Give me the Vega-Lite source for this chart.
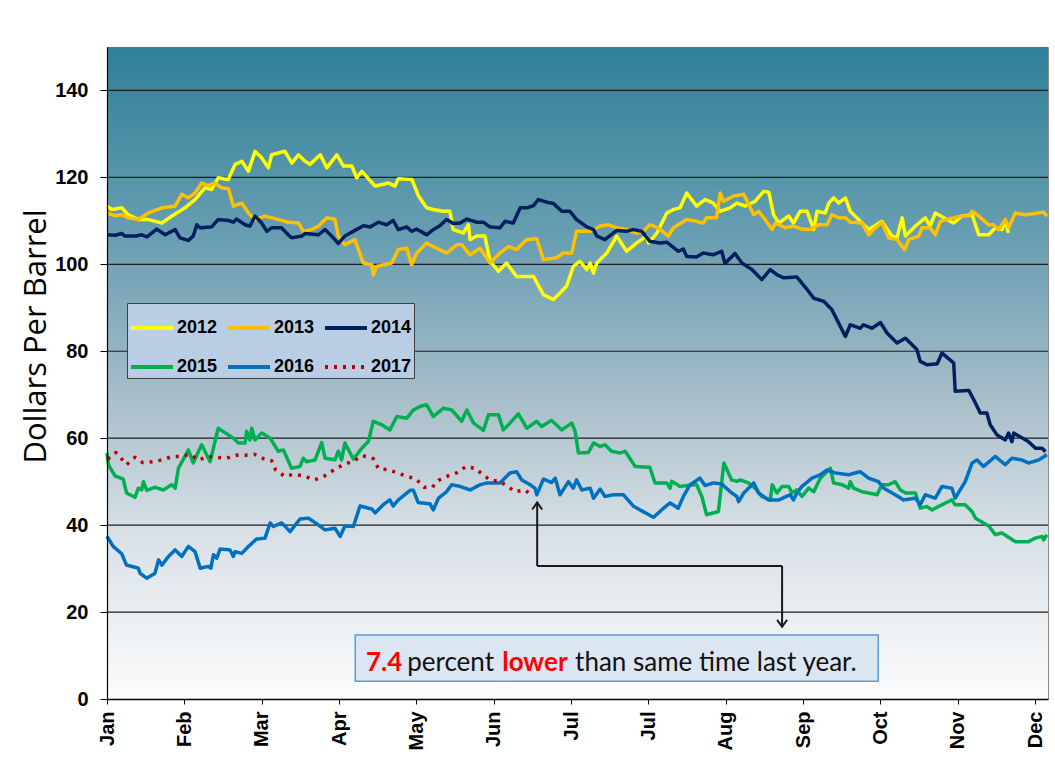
{
"$schema":"https://vega.github.io/schema/vega-lite/v6.json",
"width":941,"height":652,
"autosize":{"type":"none"},
"padding":{"left":107,"top":47,"right":7,"bottom":73},
"background":"white",
"config":{"view":{"stroke":"#8c8c8c","strokeWidth":1},"font":"Liberation Sans"},
"datasets":{
"prices":[
{"year":"2012","day":0,"price":113.4},{"year":"2012","day":1.3,"price":112.6},{"year":"2012","day":4,"price":113},{"year":"2012","day":5.8,"price":111.4},{"year":"2012","day":8.5,"price":110.3},{"year":"2012","day":11.2,"price":110.3},{"year":"2012","day":14.9,"price":109.5},{"year":"2012","day":17.6,"price":111.1},{"year":"2012","day":21.2,"price":113},{"year":"2012","day":23.9,"price":114.9},{"year":"2012","day":26.6,"price":117.6},{"year":"2012","day":28.4,"price":117.2},{"year":"2012","day":30.2,"price":119.9},{"year":"2012","day":32.9,"price":119.5},{"year":"2012","day":34.8,"price":123},{"year":"2012","day":36.6,"price":123.7},{"year":"2012","day":38.4,"price":121.4},{"year":"2012","day":40.2,"price":126},{"year":"2012","day":42,"price":124.5},{"year":"2012","day":43.8,"price":122.2},{"year":"2012","day":44.7,"price":125.2},{"year":"2012","day":48.3,"price":126},{"year":"2012","day":50.2,"price":123.3},{"year":"2012","day":52,"price":125.2},{"year":"2012","day":53.8,"price":123.7},{"year":"2012","day":55.1,"price":123},{"year":"2012","day":57.9,"price":125.2},{"year":"2012","day":59.7,"price":122.2},{"year":"2012","day":62.4,"price":125.2},{"year":"2012","day":64.2,"price":122.6},{"year":"2012","day":66.5,"price":122.6},{"year":"2012","day":67.8,"price":119.9},{"year":"2012","day":69.2,"price":121.4},{"year":"2012","day":72.8,"price":118},{"year":"2012","day":76.4,"price":118.7},{"year":"2012","day":78.2,"price":118},{"year":"2012","day":79.1,"price":119.7},{"year":"2012","day":82.8,"price":119.5},{"year":"2012","day":84.6,"price":115.7},{"year":"2012","day":86.8,"price":113},{"year":"2012","day":88.6,"price":112.6},{"year":"2012","day":91.3,"price":112.2},{"year":"2012","day":93.1,"price":112.2},{"year":"2012","day":94,"price":108},{"year":"2012","day":96.8,"price":107.2},{"year":"2012","day":98.1,"price":109.1},{"year":"2012","day":98.6,"price":105.7},{"year":"2012","day":100.4,"price":106.5},{"year":"2012","day":102.6,"price":106.5},{"year":"2012","day":104,"price":100.7},{"year":"2012","day":106.3,"price":98.4},{"year":"2012","day":108.5,"price":100.3},{"year":"2012","day":111.2,"price":97.2},{"year":"2012","day":115.8,"price":97.2},{"year":"2012","day":118.5,"price":93},{"year":"2012","day":121.2,"price":91.9},{"year":"2012","day":123,"price":93.4},{"year":"2012","day":124.8,"price":95},{"year":"2012","day":126.6,"price":99.5},{"year":"2012","day":128.4,"price":100.7},{"year":"2012","day":130.3,"price":98.8},{"year":"2012","day":131.2,"price":100.3},{"year":"2012","day":132.1,"price":98},{"year":"2012","day":133,"price":100.3},{"year":"2012","day":135.7,"price":102.6},{"year":"2012","day":138.4,"price":106.5},{"year":"2012","day":141.1,"price":103},{"year":"2012","day":143.8,"price":104.9},{"year":"2012","day":146.5,"price":106.5},{"year":"2012","day":147,"price":104.9},{"year":"2012","day":149.3,"price":107.2},{"year":"2012","day":152,"price":111.8},{"year":"2012","day":153.8,"price":112.6},{"year":"2012","day":155.6,"price":113},{"year":"2012","day":157.4,"price":116.4},{"year":"2012","day":160.1,"price":113.4},{"year":"2012","day":162.4,"price":114.9},{"year":"2012","day":164.6,"price":114.1},{"year":"2012","day":166.5,"price":112.2},{"year":"2012","day":169.2,"price":113},{"year":"2012","day":171,"price":114.1},{"year":"2012","day":173.3,"price":113.4},{"year":"2012","day":176,"price":114.5},{"year":"2012","day":178.3,"price":116.8},{"year":"2012","day":179.7,"price":116.6},{"year":"2012","day":181,"price":111.4},{"year":"2012","day":182.4,"price":109.5},{"year":"2012","day":185.1,"price":111.1},{"year":"2012","day":186.4,"price":109.5},{"year":"2012","day":188.2,"price":112.2},{"year":"2012","day":190.1,"price":112.2},{"year":"2012","day":191.9,"price":108},{"year":"2012","day":192.8,"price":112.2},{"year":"2012","day":195,"price":111.8},{"year":"2012","day":196,"price":114.1},{"year":"2012","day":197.3,"price":115.3},{"year":"2012","day":198.7,"price":114.1},{"year":"2012","day":200.5,"price":115.3},{"year":"2012","day":201.8,"price":112.2},{"year":"2012","day":204.1,"price":110.3},{"year":"2012","day":206.8,"price":108},{"year":"2012","day":210.4,"price":109.9},{"year":"2012","day":213.1,"price":106.5},{"year":"2012","day":214.5,"price":106.1},{"year":"2012","day":215.9,"price":110.7},{"year":"2012","day":216.8,"price":106.5},{"year":"2012","day":219.5,"price":108.8},{"year":"2012","day":222.2,"price":110.7},{"year":"2012","day":223.5,"price":108.8},{"year":"2012","day":224.9,"price":111.8},{"year":"2012","day":227.2,"price":110.7},{"year":"2012","day":229.9,"price":109.5},{"year":"2012","day":232.1,"price":111.1},{"year":"2012","day":234.9,"price":111.4},{"year":"2012","day":236.7,"price":106.8},{"year":"2012","day":239.4,"price":106.8},{"year":"2012","day":241.2,"price":108.4},{"year":"2012","day":243,"price":108},{"year":"2012","day":243.9,"price":109.9},{"year":"2012","day":244.8,"price":107.2},
{"year":"2013","day":0,"price":111.8},{"year":"2013","day":2.2,"price":111.2},{"year":"2013","day":4,"price":111.4},{"year":"2013","day":5.8,"price":110.7},{"year":"2013","day":8.5,"price":110.3},{"year":"2013","day":11.2,"price":111.8},{"year":"2013","day":14.9,"price":113},{"year":"2013","day":18.5,"price":113.4},{"year":"2013","day":20.3,"price":116.1},{"year":"2013","day":22.1,"price":115.3},{"year":"2013","day":23.9,"price":116.4},{"year":"2013","day":25.7,"price":118.7},{"year":"2013","day":27.5,"price":118.1},{"year":"2013","day":29.3,"price":118.7},{"year":"2013","day":31.1,"price":117.6},{"year":"2013","day":33,"price":117.4},{"year":"2013","day":34.3,"price":113.4},{"year":"2013","day":36.6,"price":114.1},{"year":"2013","day":38.4,"price":111.8},{"year":"2013","day":40.2,"price":110.3},{"year":"2013","day":42.9,"price":111.1},{"year":"2013","day":46.5,"price":110.3},{"year":"2013","day":49.2,"price":109.7},{"year":"2013","day":52,"price":109.5},{"year":"2013","day":53.3,"price":107.6},{"year":"2013","day":55.6,"price":108},{"year":"2013","day":57.4,"price":108.8},{"year":"2013","day":59.7,"price":110.7},{"year":"2013","day":61.9,"price":110.4},{"year":"2013","day":62.8,"price":106.5},{"year":"2013","day":64.6,"price":104.5},{"year":"2013","day":67.3,"price":105.7},{"year":"2013","day":69.6,"price":100.3},{"year":"2013","day":71.9,"price":99.9},{"year":"2013","day":72.3,"price":97.6},{"year":"2013","day":73.2,"price":99.5},{"year":"2013","day":77.3,"price":100.3},{"year":"2013","day":79.1,"price":103.4},{"year":"2013","day":81.4,"price":103.7},{"year":"2013","day":82.7,"price":99.9},{"year":"2013","day":84.1,"price":102.6},{"year":"2013","day":86.8,"price":104.9},{"year":"2013","day":89.5,"price":103.7},{"year":"2013","day":92.2,"price":102.6},{"year":"2013","day":95,"price":104.5},{"year":"2013","day":96.3,"price":104.5},{"year":"2013","day":98.6,"price":102.2},{"year":"2013","day":101.3,"price":103.7},{"year":"2013","day":104,"price":100.3},{"year":"2013","day":106.7,"price":102.6},{"year":"2013","day":109,"price":104.1},{"year":"2013","day":111.2,"price":103.4},{"year":"2013","day":114,"price":105.7},{"year":"2013","day":116.7,"price":105.9},{"year":"2013","day":118.5,"price":101.1},{"year":"2013","day":122.1,"price":101.5},{"year":"2013","day":123.9,"price":102.6},{"year":"2013","day":126.2,"price":102.6},{"year":"2013","day":127.5,"price":107.6},{"year":"2013","day":131.2,"price":107.6},{"year":"2013","day":133.9,"price":108.8},{"year":"2013","day":136.1,"price":109.1},{"year":"2013","day":138.4,"price":108.4},{"year":"2013","day":141.1,"price":108},{"year":"2013","day":143.8,"price":107.2},{"year":"2013","day":145.6,"price":107.6},{"year":"2013","day":147.4,"price":109.1},{"year":"2013","day":149.7,"price":108.4},{"year":"2013","day":152.4,"price":106.5},{"year":"2013","day":153.8,"price":108.4},{"year":"2013","day":157.4,"price":110.3},{"year":"2013","day":160.1,"price":109.9},{"year":"2013","day":161.9,"price":109.5},{"year":"2013","day":162.8,"price":110.7},{"year":"2013","day":165.5,"price":110.7},{"year":"2013","day":166.5,"price":116.4},{"year":"2013","day":167.4,"price":114.5},{"year":"2013","day":170.1,"price":115.7},{"year":"2013","day":172.9,"price":116.1},{"year":"2013","day":175.6,"price":111.4},{"year":"2013","day":176.9,"price":112.2},{"year":"2013","day":178.7,"price":110.3},{"year":"2013","day":180.6,"price":108},{"year":"2013","day":181.5,"price":109.5},{"year":"2013","day":184.2,"price":108.4},{"year":"2013","day":186.4,"price":108.8},{"year":"2013","day":188.7,"price":108.1},{"year":"2013","day":191,"price":108},{"year":"2013","day":193.2,"price":109.1},{"year":"2013","day":195.5,"price":109.1},{"year":"2013","day":196.8,"price":111.4},{"year":"2013","day":198.7,"price":110.7},{"year":"2013","day":200.5,"price":110.7},{"year":"2013","day":201.8,"price":109.7},{"year":"2013","day":205,"price":109.5},{"year":"2013","day":206.8,"price":106.8},{"year":"2013","day":208.6,"price":108.4},{"year":"2013","day":210.4,"price":109.7},{"year":"2013","day":212.2,"price":106.1},{"year":"2013","day":214.5,"price":105.7},{"year":"2013","day":216.6,"price":103.4},{"year":"2013","day":217.7,"price":105.7},{"year":"2013","day":220.4,"price":106.5},{"year":"2013","day":221.3,"price":108.4},{"year":"2013","day":223.5,"price":108.4},{"year":"2013","day":224.9,"price":106.8},{"year":"2013","day":226.3,"price":109.9},{"year":"2013","day":228.5,"price":110.4},{"year":"2013","day":230.8,"price":110.9},{"year":"2013","day":234,"price":111.2},{"year":"2013","day":234.9,"price":112.2},{"year":"2013","day":236.7,"price":111.1},{"year":"2013","day":239.4,"price":109.1},{"year":"2013","day":240.7,"price":109.1},{"year":"2013","day":242.1,"price":108},{"year":"2013","day":243.9,"price":110.3},{"year":"2013","day":244.8,"price":108.4},{"year":"2013","day":246.6,"price":111.8},{"year":"2013","day":249.3,"price":111.4},{"year":"2013","day":252,"price":111.7},{"year":"2013","day":254.3,"price":112},{"year":"2013","day":255.2,"price":111.1},
{"year":"2014","day":0,"price":106.8},{"year":"2014","day":2.2,"price":106.7},{"year":"2014","day":4,"price":107.1},{"year":"2014","day":4.9,"price":106.5},{"year":"2014","day":7.6,"price":106.5},{"year":"2014","day":9.4,"price":106.8},{"year":"2014","day":10.8,"price":106.3},{"year":"2014","day":13.5,"price":108.1},{"year":"2014","day":15.8,"price":106.8},{"year":"2014","day":18.5,"price":108},{"year":"2014","day":19.8,"price":106.1},{"year":"2014","day":22.1,"price":105.5},{"year":"2014","day":23.4,"price":106.5},{"year":"2014","day":24.4,"price":109.1},{"year":"2014","day":25.3,"price":108.4},{"year":"2014","day":28.4,"price":108.6},{"year":"2014","day":30.2,"price":110.3},{"year":"2014","day":33,"price":110.1},{"year":"2014","day":34.3,"price":109.7},{"year":"2014","day":35.2,"price":110.4},{"year":"2014","day":37.5,"price":109.1},{"year":"2014","day":38.8,"price":108.8},{"year":"2014","day":40.2,"price":111.1},{"year":"2014","day":42,"price":109.5},{"year":"2014","day":43.4,"price":107.6},{"year":"2014","day":44.7,"price":108.4},{"year":"2014","day":47.4,"price":108.4},{"year":"2014","day":49.2,"price":106.8},{"year":"2014","day":50.1,"price":106.1},{"year":"2014","day":52.9,"price":106.5},{"year":"2014","day":53.8,"price":107.1},{"year":"2014","day":57.4,"price":106.8},{"year":"2014","day":59.2,"price":108},{"year":"2014","day":61,"price":106.5},{"year":"2014","day":62.8,"price":104.8},{"year":"2014","day":64.6,"price":106.5},{"year":"2014","day":66.9,"price":107.6},{"year":"2014","day":69.6,"price":108.9},{"year":"2014","day":71.4,"price":108.6},{"year":"2014","day":73.7,"price":109.7},{"year":"2014","day":75.9,"price":109.1},{"year":"2014","day":77.7,"price":110.1},{"year":"2014","day":79.1,"price":108},{"year":"2014","day":81.4,"price":108.6},{"year":"2014","day":82.7,"price":107.6},{"year":"2014","day":84.1,"price":108.1},{"year":"2014","day":86.8,"price":106.8},{"year":"2014","day":88.6,"price":108},{"year":"2014","day":90.4,"price":108.9},{"year":"2014","day":92.2,"price":110.3},{"year":"2014","day":94,"price":109.4},{"year":"2014","day":95.9,"price":109.5},{"year":"2014","day":97.7,"price":110.4},{"year":"2014","day":100.4,"price":109.7},{"year":"2014","day":102.2,"price":109.7},{"year":"2014","day":104,"price":108.6},{"year":"2014","day":106.7,"price":108.4},{"year":"2014","day":108.1,"price":109.9},{"year":"2014","day":110.3,"price":109.5},{"year":"2014","day":112.2,"price":113},{"year":"2014","day":114,"price":113},{"year":"2014","day":115.8,"price":113.5},{"year":"2014","day":117.1,"price":114.9},{"year":"2014","day":119.4,"price":114.3},{"year":"2014","day":121.2,"price":114},{"year":"2014","day":123.5,"price":112.2},{"year":"2014","day":125.7,"price":112.2},{"year":"2014","day":127.5,"price":110.3},{"year":"2014","day":130.3,"price":108.6},{"year":"2014","day":132.1,"price":108},{"year":"2014","day":133,"price":106.5},{"year":"2014","day":135.2,"price":105.7},{"year":"2014","day":138.4,"price":107.8},{"year":"2014","day":141.1,"price":107.6},{"year":"2014","day":142.9,"price":108},{"year":"2014","day":145.2,"price":107.6},{"year":"2014","day":147.4,"price":105.3},{"year":"2014","day":150.2,"price":104.9},{"year":"2014","day":152,"price":105.1},{"year":"2014","day":155.1,"price":103},{"year":"2014","day":156.5,"price":103.5},{"year":"2014","day":157.4,"price":101.8},{"year":"2014","day":160.1,"price":101.7},{"year":"2014","day":161.9,"price":102.6},{"year":"2014","day":164.6,"price":102.2},{"year":"2014","day":166.9,"price":103},{"year":"2014","day":167.8,"price":100.2},{"year":"2014","day":170.5,"price":102.5},{"year":"2014","day":172.4,"price":100.3},{"year":"2014","day":175.1,"price":98.8},{"year":"2014","day":177.8,"price":96.5},{"year":"2014","day":180.1,"price":98.8},{"year":"2014","day":181.9,"price":97.6},{"year":"2014","day":183.7,"price":96.9},{"year":"2014","day":187.3,"price":97.1},{"year":"2014","day":190.1,"price":94.2},{"year":"2014","day":191.9,"price":92.2},{"year":"2014","day":194.6,"price":91.5},{"year":"2014","day":196.8,"price":89.6},{"year":"2014","day":200.5,"price":83.4},{"year":"2014","day":201.8,"price":86.1},{"year":"2014","day":204.5,"price":85.3},{"year":"2014","day":205.4,"price":86.1},{"year":"2014","day":207.7,"price":85.3},{"year":"2014","day":210,"price":86.6},{"year":"2014","day":211.8,"price":84.2},{"year":"2014","day":214.5,"price":81.9},{"year":"2014","day":216.8,"price":83},{"year":"2014","day":219.9,"price":80.4},{"year":"2014","day":220.8,"price":77.7},{"year":"2014","day":222.6,"price":76.9},{"year":"2014","day":225.4,"price":77.1},{"year":"2014","day":226.7,"price":79.6},{"year":"2014","day":229.9,"price":77.3},{"year":"2014","day":230.3,"price":70.8},{"year":"2014","day":234,"price":71},{"year":"2014","day":235.8,"price":68.1},{"year":"2014","day":237.1,"price":65.8},{"year":"2014","day":238.9,"price":65.8},{"year":"2014","day":239.8,"price":63.1},{"year":"2014","day":241.6,"price":60.8},{"year":"2014","day":243.9,"price":59.6},{"year":"2014","day":244.8,"price":61.2},{"year":"2014","day":245.7,"price":59.2},{"year":"2014","day":246.2,"price":61.2},{"year":"2014","day":250.2,"price":59.2},{"year":"2014","day":252.1,"price":57.7},{"year":"2014","day":253.9,"price":57.7},{"year":"2014","day":254.8,"price":56.9},
{"year":"2015","day":0,"price":56.6},{"year":"2015","day":0.4,"price":53.9},{"year":"2015","day":2.2,"price":51.3},{"year":"2015","day":4.4,"price":50.6},{"year":"2015","day":5.3,"price":47.4},{"year":"2015","day":7.6,"price":46.4},{"year":"2015","day":8.5,"price":48.5},{"year":"2015","day":9.4,"price":48.1},{"year":"2015","day":9.9,"price":50},{"year":"2015","day":10.8,"price":48},{"year":"2015","day":13,"price":48.7},{"year":"2015","day":15.3,"price":48.1},{"year":"2015","day":17.6,"price":49.3},{"year":"2015","day":18.5,"price":48.5},{"year":"2015","day":19.4,"price":53.1},{"year":"2015","day":22.1,"price":57.3},{"year":"2015","day":23.4,"price":54.3},{"year":"2015","day":25.7,"price":58.5},{"year":"2015","day":28,"price":54.6},{"year":"2015","day":30.2,"price":62.3},{"year":"2015","day":34.3,"price":60},{"year":"2015","day":35.7,"price":58.9},{"year":"2015","day":37.5,"price":58.9},{"year":"2015","day":37.9,"price":61.6},{"year":"2015","day":38.8,"price":59.6},{"year":"2015","day":39.3,"price":62.3},{"year":"2015","day":40.2,"price":59.6},{"year":"2015","day":42,"price":61.2},{"year":"2015","day":44.3,"price":60},{"year":"2015","day":46.5,"price":57},{"year":"2015","day":47.9,"price":57.3},{"year":"2015","day":50.1,"price":53.1},{"year":"2015","day":52.4,"price":53.5},{"year":"2015","day":53.3,"price":55.4},{"year":"2015","day":54.2,"price":54.6},{"year":"2015","day":56.5,"price":55},{"year":"2015","day":58.3,"price":59},{"year":"2015","day":59.2,"price":55.4},{"year":"2015","day":61.9,"price":55},{"year":"2015","day":62.8,"price":57},{"year":"2015","day":63.7,"price":55},{"year":"2015","day":64.6,"price":58.9},{"year":"2015","day":66.9,"price":55.2},{"year":"2015","day":69.2,"price":57.7},{"year":"2015","day":71,"price":59.3},{"year":"2015","day":72.3,"price":63.9},{"year":"2015","day":74.6,"price":63.1},{"year":"2015","day":76.8,"price":61.9},{"year":"2015","day":78.7,"price":65},{"year":"2015","day":81.4,"price":64.6},{"year":"2015","day":83.2,"price":66.5},{"year":"2015","day":85,"price":67.3},{"year":"2015","day":86.8,"price":67.7},{"year":"2015","day":88.6,"price":65},{"year":"2015","day":91.3,"price":66.9},{"year":"2015","day":93.6,"price":66.5},{"year":"2015","day":96.3,"price":63.9},{"year":"2015","day":97.7,"price":66.5},{"year":"2015","day":99.5,"price":63.5},{"year":"2015","day":102.2,"price":61.8},{"year":"2015","day":103.6,"price":65.4},{"year":"2015","day":106.3,"price":65.4},{"year":"2015","day":107.6,"price":61.9},{"year":"2015","day":109,"price":63.1},{"year":"2015","day":111.7,"price":65.6},{"year":"2015","day":114,"price":62.3},{"year":"2015","day":116.7,"price":63.9},{"year":"2015","day":118,"price":62.7},{"year":"2015","day":120.7,"price":64.1},{"year":"2015","day":123.5,"price":61.9},{"year":"2015","day":126.2,"price":63.5},{"year":"2015","day":127.1,"price":61.6},{"year":"2015","day":128,"price":56.6},{"year":"2015","day":130.7,"price":56.7},{"year":"2015","day":132.1,"price":58.9},{"year":"2015","day":133.9,"price":58.1},{"year":"2015","day":135.2,"price":58.5},{"year":"2015","day":137,"price":57},{"year":"2015","day":139.3,"price":56.6},{"year":"2015","day":140.7,"price":57},{"year":"2015","day":143.4,"price":53.5},{"year":"2015","day":147.4,"price":53.3},{"year":"2015","day":148.8,"price":49.7},{"year":"2015","day":152,"price":49.7},{"year":"2015","day":152.9,"price":48.5},{"year":"2015","day":153.3,"price":50.1},{"year":"2015","day":155.6,"price":48.9},{"year":"2015","day":157.4,"price":49.1},{"year":"2015","day":160.1,"price":49.3},{"year":"2015","day":161.5,"price":46.6},{"year":"2015","day":162.8,"price":42.4},{"year":"2015","day":166,"price":43.1},{"year":"2015","day":167.5,"price":54.3},{"year":"2015","day":169.6,"price":50.4},{"year":"2015","day":171,"price":50.1},{"year":"2015","day":172,"price":50.4},{"year":"2015","day":174.2,"price":49.7},{"year":"2015","day":176,"price":48.5},{"year":"2015","day":177.8,"price":46.6},{"year":"2015","day":180.1,"price":45.8},{"year":"2015","day":180.6,"price":49.3},{"year":"2015","day":181.9,"price":47.4},{"year":"2015","day":183.3,"price":48.9},{"year":"2015","day":185.1,"price":48.9},{"year":"2015","day":186,"price":47.4},{"year":"2015","day":187.3,"price":48.1},{"year":"2015","day":188.7,"price":46.6},{"year":"2015","day":190.5,"price":48.5},{"year":"2015","day":191.9,"price":47.7},{"year":"2015","day":193.7,"price":50.8},{"year":"2015","day":196.4,"price":53.1},{"year":"2015","day":197.3,"price":49.7},{"year":"2015","day":199.6,"price":49.3},{"year":"2015","day":201.4,"price":48.5},{"year":"2015","day":201.8,"price":50},{"year":"2015","day":202.7,"price":48.5},{"year":"2015","day":205,"price":47.7},{"year":"2015","day":206.8,"price":47.4},{"year":"2015","day":209.1,"price":47},{"year":"2015","day":210.4,"price":49.3},{"year":"2015","day":212.2,"price":49.3},{"year":"2015","day":214,"price":50},{"year":"2015","day":215.4,"price":48.1},{"year":"2015","day":216.8,"price":47.4},{"year":"2015","day":219.5,"price":47.4},{"year":"2015","day":220.8,"price":43.9},{"year":"2015","day":222.6,"price":44.3},{"year":"2015","day":224,"price":43.5},{"year":"2015","day":225.8,"price":44.3},{"year":"2015","day":229.4,"price":45.8},{"year":"2015","day":230.3,"price":44.7},{"year":"2015","day":233,"price":44.7},{"year":"2015","day":234.9,"price":43.1},{"year":"2015","day":235.8,"price":41.6},{"year":"2015","day":239.4,"price":39.8},{"year":"2015","day":241.2,"price":37.8},{"year":"2015","day":243,"price":38.2},{"year":"2015","day":246.6,"price":36.2},{"year":"2015","day":250.2,"price":36.2},{"year":"2015","day":252,"price":37},{"year":"2015","day":253.9,"price":37.4},{"year":"2015","day":254.3,"price":36.6},{"year":"2015","day":255.2,"price":37.8},
{"year":"2016","day":0,"price":37.4},{"year":"2016","day":1.7,"price":35.1},{"year":"2016","day":4,"price":33.4},{"year":"2016","day":5.3,"price":30.8},{"year":"2016","day":8.5,"price":30.1},{"year":"2016","day":9,"price":28.9},{"year":"2016","day":10.8,"price":27.8},{"year":"2016","day":13,"price":28.9},{"year":"2016","day":14,"price":32},{"year":"2016","day":14.9,"price":30.8},{"year":"2016","day":16.7,"price":32.8},{"year":"2016","day":18.5,"price":34.3},{"year":"2016","day":20.3,"price":32.8},{"year":"2016","day":22.1,"price":35.1},{"year":"2016","day":23.9,"price":33.9},{"year":"2016","day":25.3,"price":30.1},{"year":"2016","day":27.5,"price":30.5},{"year":"2016","day":28.2,"price":30.1},{"year":"2016","day":28.9,"price":33.2},{"year":"2016","day":29.8,"price":32.4},{"year":"2016","day":30.7,"price":34.5},{"year":"2016","day":33.4,"price":34.3},{"year":"2016","day":34.3,"price":32.8},{"year":"2016","day":34.8,"price":33.9},{"year":"2016","day":36.6,"price":33.5},{"year":"2016","day":38.4,"price":35.1},{"year":"2016","day":40.6,"price":36.8},{"year":"2016","day":42.9,"price":37},{"year":"2016","day":44.3,"price":40.5},{"year":"2016","day":45.2,"price":39.7},{"year":"2016","day":47.4,"price":40.5},{"year":"2016","day":48.3,"price":39.8},{"year":"2016","day":49.7,"price":38.5},{"year":"2016","day":52.4,"price":41.4},{"year":"2016","day":54.7,"price":41.6},{"year":"2016","day":57,"price":40.3},{"year":"2016","day":59.2,"price":38.9},{"year":"2016","day":61.9,"price":39.3},{"year":"2016","day":63.3,"price":37.4},{"year":"2016","day":64.6,"price":39.8},{"year":"2016","day":66.9,"price":39.7},{"year":"2016","day":68.7,"price":44.4},{"year":"2016","day":71.9,"price":43.7},{"year":"2016","day":72.8,"price":42.8},{"year":"2016","day":75,"price":44.7},{"year":"2016","day":76.8,"price":45.8},{"year":"2016","day":77.7,"price":44.4},{"year":"2016","day":79.1,"price":45.8},{"year":"2016","day":82.3,"price":48},{"year":"2016","day":83.2,"price":48},{"year":"2016","day":84.5,"price":45.2},{"year":"2016","day":87.7,"price":44.9},{"year":"2016","day":88.6,"price":43.5},{"year":"2016","day":90,"price":46.2},{"year":"2016","day":92.2,"price":47.7},{"year":"2016","day":93.6,"price":49.3},{"year":"2016","day":95.9,"price":48.9},{"year":"2016","day":98.6,"price":48.1},{"year":"2016","day":101.3,"price":49.3},{"year":"2016","day":103.1,"price":49.7},{"year":"2016","day":106.7,"price":49.7},{"year":"2016","day":109.4,"price":52},{"year":"2016","day":111.2,"price":52.3},{"year":"2016","day":112.6,"price":50.4},{"year":"2016","day":114.9,"price":49.3},{"year":"2016","day":116.2,"price":48.5},{"year":"2016","day":116.7,"price":47},{"year":"2016","day":118.5,"price":50.6},{"year":"2016","day":120.7,"price":49.8},{"year":"2016","day":121.7,"price":50.8},{"year":"2016","day":123,"price":47},{"year":"2016","day":125.3,"price":50},{"year":"2016","day":126.6,"price":48.5},{"year":"2016","day":127.5,"price":50.4},{"year":"2016","day":128.9,"price":48.1},{"year":"2016","day":131.2,"price":48.5},{"year":"2016","day":132.1,"price":46.2},{"year":"2016","day":133.9,"price":48.3},{"year":"2016","day":135.2,"price":46.6},{"year":"2016","day":137.5,"price":47},{"year":"2016","day":140.2,"price":47},{"year":"2016","day":142.9,"price":44.4},{"year":"2016","day":145.6,"price":43.1},{"year":"2016","day":148.4,"price":41.8},{"year":"2016","day":151.1,"price":43.9},{"year":"2016","day":152.9,"price":45.1},{"year":"2016","day":155.1,"price":43.9},{"year":"2016","day":156.5,"price":46.6},{"year":"2016","day":158.3,"price":49.3},{"year":"2016","day":161,"price":50.8},{"year":"2016","day":162.4,"price":49.1},{"year":"2016","day":164.6,"price":49.7},{"year":"2016","day":166.9,"price":49.5},{"year":"2016","day":169.2,"price":47.7},{"year":"2016","day":171,"price":46.6},{"year":"2016","day":171.5,"price":45.4},{"year":"2016","day":172.9,"price":47.4},{"year":"2016","day":175.6,"price":49.7},{"year":"2016","day":176.9,"price":47.4},{"year":"2016","day":179.6,"price":45.8},{"year":"2016","day":182.4,"price":45.8},{"year":"2016","day":185.5,"price":47},{"year":"2016","day":186.4,"price":45.8},{"year":"2016","day":187.3,"price":47.4},{"year":"2016","day":188.7,"price":48.9},{"year":"2016","day":191.4,"price":50.8},{"year":"2016","day":193.7,"price":51.6},{"year":"2016","day":195.5,"price":52.7},{"year":"2016","day":197.7,"price":52},{"year":"2016","day":201.4,"price":51.6},{"year":"2016","day":204.5,"price":52.3},{"year":"2016","day":206.8,"price":50.8},{"year":"2016","day":209.5,"price":50},{"year":"2016","day":210.9,"price":48.5},{"year":"2016","day":214,"price":47},{"year":"2016","day":216.3,"price":45.8},{"year":"2016","day":219.5,"price":46.2},{"year":"2016","day":220.8,"price":44.7},{"year":"2016","day":222.2,"price":47},{"year":"2016","day":223.5,"price":46.6},{"year":"2016","day":224.9,"price":46.2},{"year":"2016","day":226.7,"price":48.9},{"year":"2016","day":229.4,"price":48.5},{"year":"2016","day":230.3,"price":46.2},{"year":"2016","day":233,"price":50},{"year":"2016","day":234.9,"price":54.3},{"year":"2016","day":236.2,"price":55},{"year":"2016","day":238,"price":53.5},{"year":"2016","day":241.2,"price":55.8},{"year":"2016","day":243.9,"price":53.9},{"year":"2016","day":245.7,"price":55.4},{"year":"2016","day":248.4,"price":55},{"year":"2016","day":250.2,"price":54.3},{"year":"2016","day":253,"price":55},{"year":"2016","day":255.2,"price":56.2},
{"year":"2017","day":0.2,"price":55.2},{"year":"2017","day":2.4,"price":56.7},{"year":"2017","day":4,"price":55.2},{"year":"2017","day":5.3,"price":53.9},{"year":"2017","day":7.6,"price":55.6},{"year":"2017","day":9.7,"price":54.4},{"year":"2017","day":12.3,"price":54.6},{"year":"2017","day":15,"price":55},{"year":"2017","day":17.7,"price":55.8},{"year":"2017","day":20.1,"price":55.8},{"year":"2017","day":22.6,"price":56.3},{"year":"2017","day":24.8,"price":55},{"year":"2017","day":27.7,"price":55.8},{"year":"2017","day":29.5,"price":55.6},{"year":"2017","day":32.6,"price":55.4},{"year":"2017","day":35,"price":56.1},{"year":"2017","day":37.7,"price":56.1},{"year":"2017","day":40,"price":56.3},{"year":"2017","day":42.5,"price":55.3},{"year":"2017","day":44.7,"price":54.8},{"year":"2017","day":45.8,"price":52.7},{"year":"2017","day":48.3,"price":51.2},{"year":"2017","day":50.6,"price":51.7},{"year":"2017","day":53.6,"price":51.3},{"year":"2017","day":56.3,"price":50.4},{"year":"2017","day":59,"price":51.3},{"year":"2017","day":61.6,"price":52.7},{"year":"2017","day":63.9,"price":53.8},{"year":"2017","day":66.9,"price":54.7},{"year":"2017","day":69.3,"price":56},{"year":"2017","day":72.3,"price":55.3},{"year":"2017","day":73.7,"price":53},{"year":"2017","day":76.6,"price":52.7},{"year":"2017","day":78.8,"price":52},{"year":"2017","day":81.6,"price":51.2},{"year":"2017","day":83.9,"price":50.6},{"year":"2017","day":86.1,"price":48.7},{"year":"2017","day":88.3,"price":48.7},{"year":"2017","day":90,"price":50.3},{"year":"2017","day":92.5,"price":51.3},{"year":"2017","day":95.1,"price":52.1},{"year":"2017","day":97.5,"price":53.5},{"year":"2017","day":100.1,"price":53},{"year":"2017","day":102.2,"price":51.5},{"year":"2017","day":104,"price":50.4},{"year":"2017","day":106.7,"price":50},{"year":"2017","day":108.7,"price":49},{"year":"2017","day":110.8,"price":47.7},{"year":"2017","day":113.5,"price":48.1},{"year":"2017","day":115.5,"price":46.7}
]
},
"layer":[
{"data":{"values":[{"day":0,"day2":255.5,"price":0,"price2":150}]},
 "mark":{"type":"rect","color":{"gradient":"linear","x1":0,"y1":0,"x2":0,"y2":1,"stops":[{"offset":0,"color":"#2f8099"},{"offset":0.3,"color":"#6a9fb2"},{"offset":0.52,"color":"#a3bbc7"},{"offset":0.75,"color":"#d9e1e7"},{"offset":1,"color":"#fcfcfd"}]}},
 "encoding":{"x":{"field":"day","type":"quantitative","scale":{"domain":[0,255.5],"nice":false,"zero":false}},"x2":{"field":"day2"},"y":{"field":"price","type":"quantitative","scale":{"domain":[0,150],"nice":false}},"y2":{"field":"price2"}}},
{"data":{"values":[{"price":20},{"price":40},{"price":60},{"price":80},{"price":100},{"price":120},{"price":140}]},
 "mark":{"type":"rule","color":"#1e1e1e","strokeWidth":1.2},
 "encoding":{"y":{"field":"price","type":"quantitative","scale":{"domain":[0,150],"nice":false}}}},
{"data":{"name":"prices"},
 "mark":{"type":"line","strokeWidth":3.5,"strokeJoin":"round"},
 "encoding":{
  "x":{"field":"day","type":"quantitative","scale":{"domain":[0,255.5],"nice":false,"zero":false},
   "axis":{"values":[0,21,42,63,84,105,126,147,168,189,210,231,252],"labelExpr":"['Jan','Feb','Mar','Apr','May','Jun','Jul','Jul','Aug','Sep','Oct','Nov','Dec'][round(datum.value/21)]","labelAngle":270,"labelFont":"Liberation Sans","labelFontWeight":"bold","labelFontSize":20,"labelColor":"black","tickSize":5,"tickColor":"black","domainColor":"black","domainWidth":1.5,"labelPadding":7,"title":null,"grid":false,"labelOverlap":false,"labelFlush":false,"zindex":1}},
  "y":{"field":"price","type":"quantitative","scale":{"domain":[0,150],"nice":false},
   "axis":{"values":[0,20,40,60,80,100,120,140],"labelFont":"Liberation Sans","labelFontWeight":"bold","labelFontSize":20,"labelColor":"black","tickSize":7,"tickColor":"black","domainColor":"black","domainWidth":1.2,"labelPadding":12,"grid":false,"zindex":1,"title":"Dollars Per Barrel","titleFont":"Open Sans","titleFontSize":31,"titleFontWeight":"normal","titleColor":"black","titleX":-71,"titleY":289,"titleAngle":270,"titleAlign":"center","titleBaseline":"middle"}},
  "color":{"field":"year","type":"nominal","scale":{"domain":["2012","2013","2014","2015","2016","2017"],"range":["#ffff00","#ffc000","#002060","#00b050","#0070c0","#c00000"]},
   "legend":{"title":null,"orient":"none","direction":"horizontal","legendX":20,"legendY":256,"columns":3,"columnPadding":2,"rowPadding":7,"symbolType":"stroke","symbolSize":1764,"symbolStrokeWidth":4,"labelFont":"Liberation Sans","labelFontSize":18,"labelFontWeight":"bold","labelColor":"black","labelOffset":2,"labelLimit":0,"fillColor":"#b9cde5","strokeColor":"#404040","padding":2}},
  "strokeDash":{"field":"year","type":"nominal","scale":{"domain":["2012","2013","2014","2015","2016","2017"],"range":[[1,0],[1,0],[1,0],[1,0],[1,0],[3,6]]},
   "legend":{"title":null,"orient":"none","direction":"horizontal","legendX":20,"legendY":256,"columns":3,"columnPadding":2,"rowPadding":7,"symbolType":"stroke","symbolSize":1764,"symbolStrokeWidth":4,"labelFont":"Liberation Sans","labelFontSize":18,"labelFontWeight":"bold","labelColor":"black","labelOffset":2,"labelLimit":0,"fillColor":"#b9cde5","strokeColor":"#404040","padding":2}}
 }},
{"data":{"values":[{"day":116.8,"price":45.2,"day2":116.8,"price2":30.6},{"day":116.8,"price":30.6,"day2":183.3,"price2":30.6},{"day":183.3,"price":30.6,"day2":183.3,"price2":16.8}]},
 "mark":{"type":"rule","color":"#1a1a1a","strokeWidth":2},
 "encoding":{"x":{"field":"day","type":"quantitative"},"x2":{"field":"day2"},"y":{"field":"price","type":"quantitative"},"y2":{"field":"price2"}}},
{"data":{"values":[{"day":116.8,"price":45.2,"dir":"up"},{"day":183.3,"price":16.6,"dir":"down"}]},
 "mark":{"type":"point","filled":false,"stroke":"#1a1a1a","strokeWidth":2,"size":100,"opacity":1},
 "encoding":{"x":{"field":"day","type":"quantitative"},"y":{"field":"price","type":"quantitative"},
  "shape":{"field":"dir","type":"nominal","scale":{"domain":["up","down"],"range":["M-1,1.4L0,0L1,1.4","M-1,-1.4L0,0L1,-1.4"]},"legend":null}}},
{"data":{"values":[{"day":67.4,"day2":209.4,"price":14.7,"price2":4.1}]},
 "mark":{"type":"rect","fill":"#dce6f2","stroke":"#5b9bd5","strokeWidth":1.5},
 "encoding":{"x":{"field":"day","type":"quantitative"},"x2":{"field":"day2"},"y":{"field":"price","type":"quantitative"},"y2":{"field":"price2"}}},
{"data":{"values":[{"day":70.3,"price":6.45,"label":"7.4"},{"day":107.3,"price":6.45,"label":"lower"}]},
 "mark":{"type":"text","font":"Lato","fontSize":26,"fontWeight":"bold","color":"#ff0000","align":"left","baseline":"alphabetic"},
 "encoding":{"x":{"field":"day","type":"quantitative"},"y":{"field":"price","type":"quantitative"},"text":{"field":"label"}}},
{"data":{"values":[{"day":81.5,"price":6.45,"label":"percent"},{"day":127.1,"price":6.45,"label":"than same time last year."}]},
 "mark":{"type":"text","font":"Lato","fontSize":26,"fontWeight":"normal","color":"#111111","align":"left","baseline":"alphabetic"},
 "encoding":{"x":{"field":"day","type":"quantitative"},"y":{"field":"price","type":"quantitative"},"text":{"field":"label"}}}
]
}
